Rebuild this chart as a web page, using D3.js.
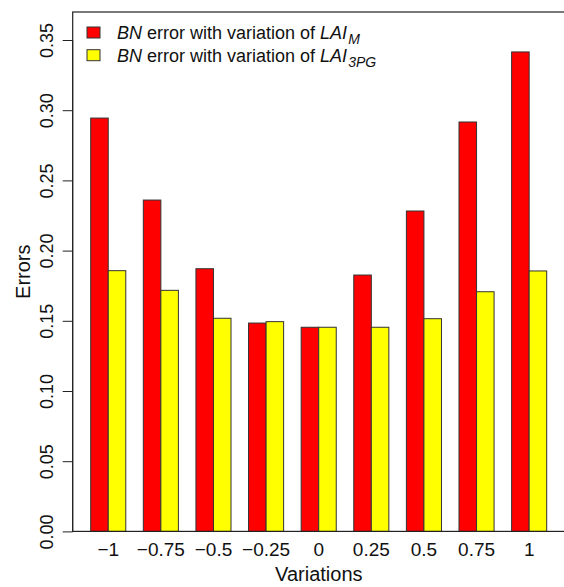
<!DOCTYPE html>
<html>
<head>
<meta charset="utf-8">
<script src="https://cdn.jsdelivr.net/npm/d3@7"></script>
<style>
  body { margin: 0; background: #fff; }
  svg { display: block; font-family: "Liberation Sans", Arial, Helvetica, sans-serif; }
</style>
</head>
<body>
<svg id="chart" width="564" height="587"></svg>
<script>
const variations = ['\u22121', '\u22120.75', '\u22120.5', '\u22120.25', '0', '0.25', '0.5', '0.75', '1']
const errLaiM = [0.2944, 0.2360, 0.1871, 0.1484, 0.1454, 0.1826, 0.2282, 0.2916, 0.3415]
const errLai3pg = [0.1857, 0.1717, 0.1518, 0.1494, 0.1454, 0.1454, 0.1515, 0.1707, 0.1855]
const seriesKeys = ['M', '3PG']
const seriesColors = ['#ff0000', '#ffff00']
const yTicks = [0, 0.05, 0.10, 0.15, 0.20, 0.25, 0.30, 0.35]

const data = variations.map((v, i) => ({ v, vals: [errLaiM[i], errLai3pg[i]] }))

const svg = d3.select('#chart')
const box = { left: 72.7, right: 565, top: 12, bottom: 531.4 }

const y = d3.scaleLinear().domain([0, 0.37]).range([box.bottom, box.bottom - 0.37 * 1404])
const x = d3.scaleBand().domain(variations).range([90.7, 546.7]).paddingInner(1 / 3).paddingOuter(0)
const xSub = d3.scaleBand().domain(seriesKeys).range([0, x.bandwidth()])

// bars
const groups = svg.append('g').selectAll('g').data(data).join('g')
    .attr('transform', d => `translate(${x(d.v)},0)`)
groups.selectAll('rect').data(d => d.vals.map((val, j) => ({ key: seriesKeys[j], val, c: seriesColors[j] })))
    .join('rect')
    .attr('x', d => xSub(d.key))
    .attr('y', d => y(d.val))
    .attr('width', xSub.bandwidth())
    .attr('height', d => y(0) - y(d.val))
    .attr('fill', d => d.c)
    .attr('stroke', '#333')
    .attr('stroke-width', 1)

// frame
svg.append('rect')
    .attr('x', box.left).attr('y', box.top)
    .attr('width', box.right - box.left).attr('height', box.bottom - box.top)
    .attr('fill', 'none').attr('stroke', '#222').attr('stroke-width', 1.2)

// y axis
const axisY = d3.axisLeft(y).tickValues(yTicks).tickFormat(d3.format('.2f')).tickSize(10).tickSizeOuter(0)
svg.append('g')
    .attr('transform', `translate(${box.left},0)`)
    .call(axisY)
    .call(g => g.select('.domain').attr('d', `M0,${y(0.35)}V${y(0)}`).attr('stroke', '#222'))
    .call(g => g.selectAll('.tick line').attr('stroke', '#222'))
    .selectAll('text')
    .attr('x', null).attr('dy', null)
    .attr('transform', 'translate(-19.5,0) rotate(-90)')
    .attr('text-anchor', 'middle')
    .attr('fill', '#111')
    .style('font-size', '18px')

// x axis labels
const axisX = d3.axisBottom(x).tickSize(0)
svg.append('g')
    .attr('transform', `translate(0,${box.bottom})`)
    .call(axisX)
    .call(g => g.select('.domain').remove())
    .selectAll('text')
    .attr('y', 25).attr('dy', null)
    .attr('fill', '#111')
    .style('font-size', '19px')

// axis titles
svg.append('text')
    .attr('x', (box.left + box.right) / 2).attr('y', 581)
    .attr('text-anchor', 'middle').attr('fill', '#111')
    .style('font-size', '20px')
    .text('Variations')
svg.append('text')
    .attr('transform', `translate(30,${(box.top + box.bottom) / 2}) rotate(-90)`)
    .attr('text-anchor', 'middle').attr('fill', '#111')
    .style('font-size', '20px')
    .text('Errors')

// legend
const legend = svg.append('g').attr('transform', 'translate(87,27)')
const rows = legend.selectAll('g').data(seriesKeys).join('g')
    .attr('transform', (d, i) => `translate(0,${i * 22.7})`)
rows.append('rect')
    .attr('width', 13).attr('height', 11)
    .attr('fill', (d, i) => seriesColors[i])
    .attr('stroke', '#333')
const txt = rows.append('text')
    .attr('x', 30).attr('y', 12)
    .attr('fill', '#111')
    .style('font-size', '18px')
txt.append('tspan').style('font-style', 'italic').text('BN')
txt.append('tspan').text(' error with variation of ')
txt.append('tspan').style('font-style', 'italic').text('LAI')
txt.append('tspan').style('font-style', 'italic').style('font-size', '14px')
    .attr('dy', 5).attr('dx', 1).text(d => d)
</script>
</body>
</html>
